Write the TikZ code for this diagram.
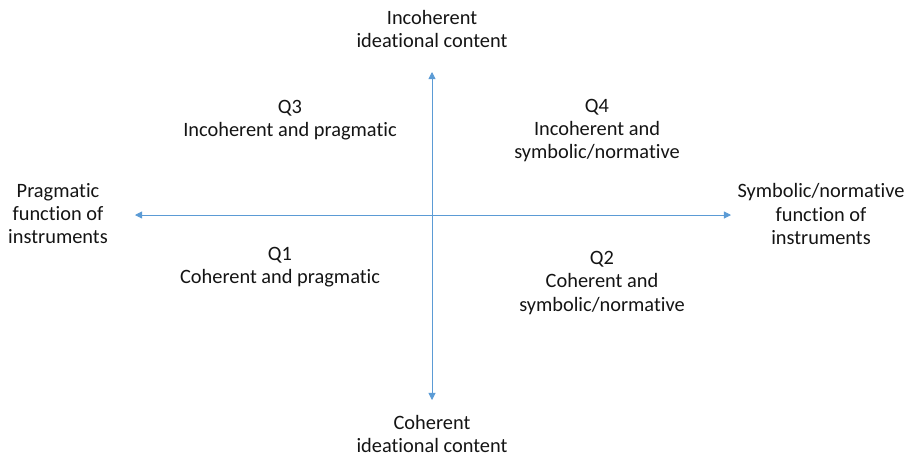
\documentclass[tikz,border=0pt]{standalone}
\usepackage{fontspec}
\setmainfont[Ligatures=NoCommon]{Carlito}
\usetikzlibrary{
    arrows.meta,        % arrow tips
    positioning
}
\definecolor{axisblue}{RGB}{91,155,213}
\definecolor{txtgray}{RGB}{20,20,20}

\begin{document}
\begin{tikzpicture}[x=0.02cm, y=-0.02cm,
    axis/.style={{Triangle[length=4pt,width=4pt]}-{Triangle[length=4pt,width=4pt]}, axisblue, line width=0.5pt},
    label/.style={align=center, text=txtgray, font=\fontsize{11.6}{13.1}\selectfont, inner sep=0pt}]

        % bounding box (916 x 458 px)
        \useasboundingbox (0,0) rectangle (916,458);

        % axis ends
        \coordinate (top) at (432,72);
        \coordinate (bottom) at (432,400);
        \coordinate (left) at (135,215);
        \coordinate (right) at (731,215);

        % axes
        \draw[axis] (bottom) -- (top);
        \draw[axis] (left) -- (right);

        % axis labels
        \node[label] (incoh) at (432,29) {Incoherent\\ideational content};
        \node[label] (coh) at (432,434) {Coherent\\ideational content};
        \node[label] (prag) at (58,214) {Pragmatic\\function of\\instruments};
        \node[label] (symb) at (821,214) {Symbolic/normative\\function of\\instruments};

        % quadrants
        \node[label] (q3) at (290,120) {Q3\\Incoherent and pragmatic};
        \node[label] (q4) at (597,131) {Q4\\Incoherent and\\symbolic/normative};
        \node[label] (q1) at (280,267) {Q1\\Coherent and pragmatic};
        \node[label] (q2) at (602,283) {Q2\\Coherent and\\symbolic/normative};

    \end{tikzpicture}
\end{document}
